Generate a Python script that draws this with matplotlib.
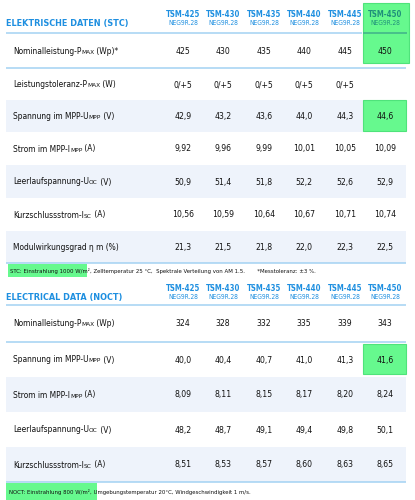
import matplotlib
matplotlib.use("Agg")
import matplotlib.pyplot as plt
from matplotlib.patches import Rectangle

# --- table contents -------------------------------------------------------
models = ["TSM-425", "TSM-430", "TSM-435", "TSM-440", "TSM-445", "TSM-450"]
variant = "NEG9R.28"

stc_title = "ELEKTRISCHE DATEN (STC)"
noct_title = "ELECTRICAL DATA (NOCT)"

# labels are lists of (text, small-caps?) pieces
stc_labels = [
    [("Nominalleistung-P", False), ("MAX", True), (" (Wp)*", False)],
    [("Leistungstoleranz-P", False), ("MAX", True), (" (W)", False)],
    [("Spannung im MPP-U", False), ("MPP", True), (" (V)", False)],
    [("Strom im MPP-I", False), ("MPP", True), (" (A)", False)],
    [("Leerlaufspannung-U", False), ("OC", True), (" (V)", False)],
    [("Kurzschlussstrom-I", False), ("SC", True), (" (A)", False)],
    [("Modulwirkungsgrad η m (%)", False)],
]
stc_pmax = ["425", "430", "435", "440", "445", "450"]
stc_tol = ["0/+5", "0/+5", "0/+5", "0/+5", "0/+5", ""]
stc_umpp = ["42,9", "43,2", "43,6", "44,0", "44,3", "44,6"]
stc_impp = ["9,92", "9,96", "9,99", "10,01", "10,05", "10,09"]
stc_uoc = ["50,9", "51,4", "51,8", "52,2", "52,6", "52,9"]
stc_isc = ["10,56", "10,59", "10,64", "10,67", "10,71", "10,74"]
stc_eff = ["21,3", "21,5", "21,8", "22,0", "22,3", "22,5"]
stc_rows = [stc_pmax, stc_tol, stc_umpp, stc_impp, stc_uoc, stc_isc, stc_eff]

noct_labels = [
    [("Nominalleistung-P", False), ("MAX", True), (" (Wp)", False)],
    [("Spannung im MPP-U", False), ("MPP", True), (" (V)", False)],
    [("Strom im MPP-I", False), ("MPP", True), (" (A)", False)],
    [("Leerlaufspannung-U", False), ("OC", True), (" (V)", False)],
    [("Kurzschlussstrom-I", False), ("SC", True), (" (A)", False)],
]
noct_pmax = ["324", "328", "332", "335", "339", "343"]
noct_umpp = ["40,0", "40,4", "40,7", "41,0", "41,3", "41,6"]
noct_impp = ["8,09", "8,11", "8,15", "8,17", "8,20", "8,24"]
noct_uoc = ["48,2", "48,7", "49,1", "49,4", "49,8", "50,1"]
noct_isc = ["8,51", "8,53", "8,57", "8,60", "8,63", "8,65"]
noct_rows = [noct_pmax, noct_umpp, noct_impp, noct_uoc, noct_isc]

stc_note_hl = "STC: Einstrahlung 1000 W/m²"
stc_note = ", Zelltemperatur 25 °C,  Spektrale Verteilung von AM 1.5.       *Messtoleranz: ±3 %."
noct_note_hl = "NOCT: Einstrahlung 800 W/m²"
noct_note = ", Umgebungstemperatur 20°C, Windgeschwindigkeit 1 m/s."

# --- styling ---------------------------------------------------------------
BLUE = "#1e8fe0"
LINE = "#a3d2f2"
SHADE = "#eef3fb"
GREEN = "#66f98e"
GREEN_EDGE = "#4fe37b"
TEAL = "#1f8f7a"
FONT = "DejaVu Sans"

col_x = [183, 223, 264, 304, 345, 385]

fig = plt.figure(figsize=(4.15, 5.0), dpi=100)
ax = fig.add_axes([0, 0, 1, 1])
ax.set_xlim(0, 415)
ax.set_ylim(500, 0)
ax.axis("off")
renderer = fig.canvas.get_renderer()


def pieces(x, y, parts, size, color="#111111"):
    inv = ax.transData.inverted()
    for txt, small in parts:
        t = ax.text(x, y, txt, fontsize=size * 0.78 if small else size,
                    family=FONT, stretch="condensed", color=color,
                    ha="left", va="baseline", zorder=3)
        bb = t.get_window_extent(renderer)
        x0 = inv.transform((bb.x0, bb.y0))[0]
        x1 = inv.transform((bb.x1, bb.y0))[0]
        x += x1 - x0


def hline(y, x0=6, x1=406, color=LINE):
    ax.plot([x0, x1], [y, y], color=color, lw=1.1, solid_capstyle="butt")


def header(title, y_title, y_model, y_var, green=False):
    ax.text(6, y_title, title, fontsize=6.5, fontweight="bold", color=BLUE,
            family=FONT, stretch="condensed", va="baseline")
    for i, m in enumerate(models):
        c = TEAL if (green and i == 5) else BLUE
        ax.text(col_x[i], y_model, m, fontsize=5.6, fontweight="bold", color=c,
                family=FONT, stretch="condensed", ha="center", va="baseline", zorder=3)
        ax.text(col_x[i], y_var, variant, fontsize=4.8, color=c,
                family=FONT, stretch="condensed", ha="center", va="baseline", zorder=3)


def body(labels, rows, edges, shaded, green_cells):
    for k in range(len(rows)):
        top, bot = edges[k], edges[k + 1]
        if k in shaded:
            ax.add_patch(Rectangle((6, top), 400, bot - top, color=SHADE, lw=0, zorder=0))
        if k in green_cells:
            gt, gb = green_cells[k]
            ax.add_patch(Rectangle((363, gt), 43, gb - gt, facecolor=GREEN,
                                   edgecolor=GREEN_EDGE, lw=0.8, zorder=1))
        yb = (top + bot) / 2 + 3
        pieces(13, yb, labels[k], 6.0)
        for i, v in enumerate(rows[k]):
            ax.text(col_x[i], yb, v, fontsize=6.2, family=FONT, stretch="condensed",
                    color="#111111", ha="center", va="baseline", zorder=3)


# STC table
ax.add_patch(Rectangle((363, 3), 46, 60, facecolor=GREEN, edgecolor=GREEN_EDGE,
                       lw=0.8, zorder=1))
header(stc_title, 26, 17, 25, green=True)
hline(33, 6, 362)
hline(33, 363, 407, color="#3fb08a")
stc_edges = [33, 68, 100, 132, 165, 198, 231, 263]
body(stc_labels, stc_rows, stc_edges, shaded={2, 4, 6},
     green_cells={2: (100, 131)})
hline(68)
hline(263)

# STC note
ax.add_patch(Rectangle((8, 264), 79, 13, color=GREEN, lw=0, zorder=1))
pieces(10, 273, [(stc_note_hl, False), (stc_note, False)], 4.3)

# NOCT table
header(noct_title, 300, 291, 299)
hline(305)
noct_edges = [305, 342, 377, 412, 447, 482]
body(noct_labels, noct_rows, noct_edges, shaded={2, 4},
     green_cells={1: (344, 374)})
hline(342)
hline(482)

ax.add_patch(Rectangle((6, 483), 91, 17, color=GREEN, lw=0, zorder=1))
pieces(9, 494, [(noct_note_hl, False), (noct_note, False)], 4.3)

fig.savefig("out.png", dpi=100)
